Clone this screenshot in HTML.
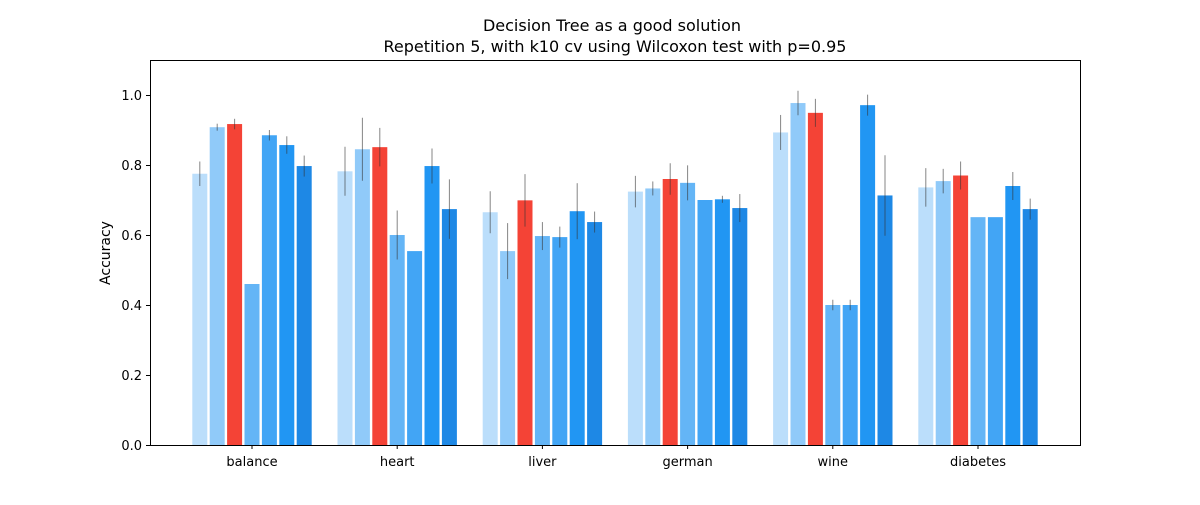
<!DOCTYPE html>
<html><head><meta charset="utf-8"><style>
body{margin:0;background:#fff;font-family:"Liberation Sans","DejaVu Sans",sans-serif;}
svg text{font-family:"DejaVu Sans","Liberation Sans",sans-serif;}
</style></head><body>
<svg id="chart" width="1200" height="500" xmlns="http://www.w3.org/2000/svg">
<rect width="1200" height="500" fill="#fff"/>
<text x="612" y="31" text-anchor="middle" font-size="16">Decision Tree as a good solution</text>
<text x="615" y="52" text-anchor="middle" font-size="16">Repetition 5, with k10 cv using Wilcoxon test with p=0.95</text>
<g id="marks"></g>
<rect x="150.5" y="60.5" width="930" height="385" fill="none" stroke="#000" stroke-width="1"/>
<g id="axes"></g>
<text transform="translate(110,253) rotate(-90)" text-anchor="middle" font-size="14">Accuracy</text>
</svg>
<script>
const categories=["balance","heart","liver","german","wine","diabetes"];
const s1=[0.775,0.782,0.665,0.724,0.893,0.736];
const s2=[0.908,0.845,0.554,0.733,0.977,0.754];
const s3=[0.917,0.851,0.699,0.760,0.949,0.770];
const s4=[0.460,0.600,0.597,0.749,0.400,0.651];
const s5=[0.885,0.554,0.594,0.700,0.400,0.651];
const s6=[0.857,0.797,0.668,0.702,0.971,0.740];
const s7=[0.797,0.674,0.637,0.677,0.713,0.674];
const e1=[0.035,0.07,0.06,0.045,0.05,0.055];
const e2=[0.01,0.09,0.08,0.02,0.035,0.035];
const e3=[0.015,0.055,0.075,0.045,0.04,0.04];
const e4=[0,0.07,0.04,0.05,0.015,0];
const e5=[0.015,0,0.03,0,0.015,0];
const e6=[0.025,0.05,0.08,0.01,0.03,0.04];
const e7=[0.03,0.085,0.03,0.04,0.115,0.03];
const yTicks=[0,0.2,0.4,0.6,0.8,1.0];
const series=[s1,s2,s3,s4,s5,s6,s7];
const errs=[e1,e2,e3,e4,e5,e6,e7];
const colors=["#bbdefb","#90caf9","#f44336","#64b5f6","#42a5f5","#2196f3","#1e88e5"];
const NS="http://www.w3.org/2000/svg";
const y=v=>445-v*350;
const gx=i=>252+i*145.2;
const slot=17.4,bw=15;
const marks=document.getElementById('marks'),axes=document.getElementById('axes');
function mk(t,a,p){const e=document.createElementNS(NS,t);for(const k in a)e.setAttribute(k,a[k]);p.appendChild(e);return e;}
categories.forEach((c,i)=>{
 series.forEach((s,j)=>{
  const cx=gx(i)+(j-3)*slot;
  const r=mk('rect',{x:cx-bw/2,y:y(s[i]),width:bw,height:y(0)-y(s[i]),fill:colors[j]},marks);
  
  
  const e=errs[j][i];
  if(e>0){const l=mk('line',{x1:cx,x2:cx,y1:y(s[i]-e),y2:y(s[i]+e),stroke:'#333','stroke-width':1,'stroke-opacity':0.6},marks);
  
  }
 });
 mk('line',{x1:gx(i),x2:gx(i),y1:445,y2:449,stroke:'#000'},axes);
 const t=mk('text',{x:gx(i),y:466,'text-anchor':'middle','font-size':13},axes);t.textContent=c;
 
 
});
yTicks.forEach(v=>{
 mk('line',{x1:146,x2:150,y1:y(v)+0.5,y2:y(v)+0.5,stroke:'#000'},axes);
 const t=mk('text',{x:142,y:y(v)+5,'text-anchor':'end','font-size':13},axes);t.textContent=v.toFixed(1);
 
 
});
</script>
</body></html>
